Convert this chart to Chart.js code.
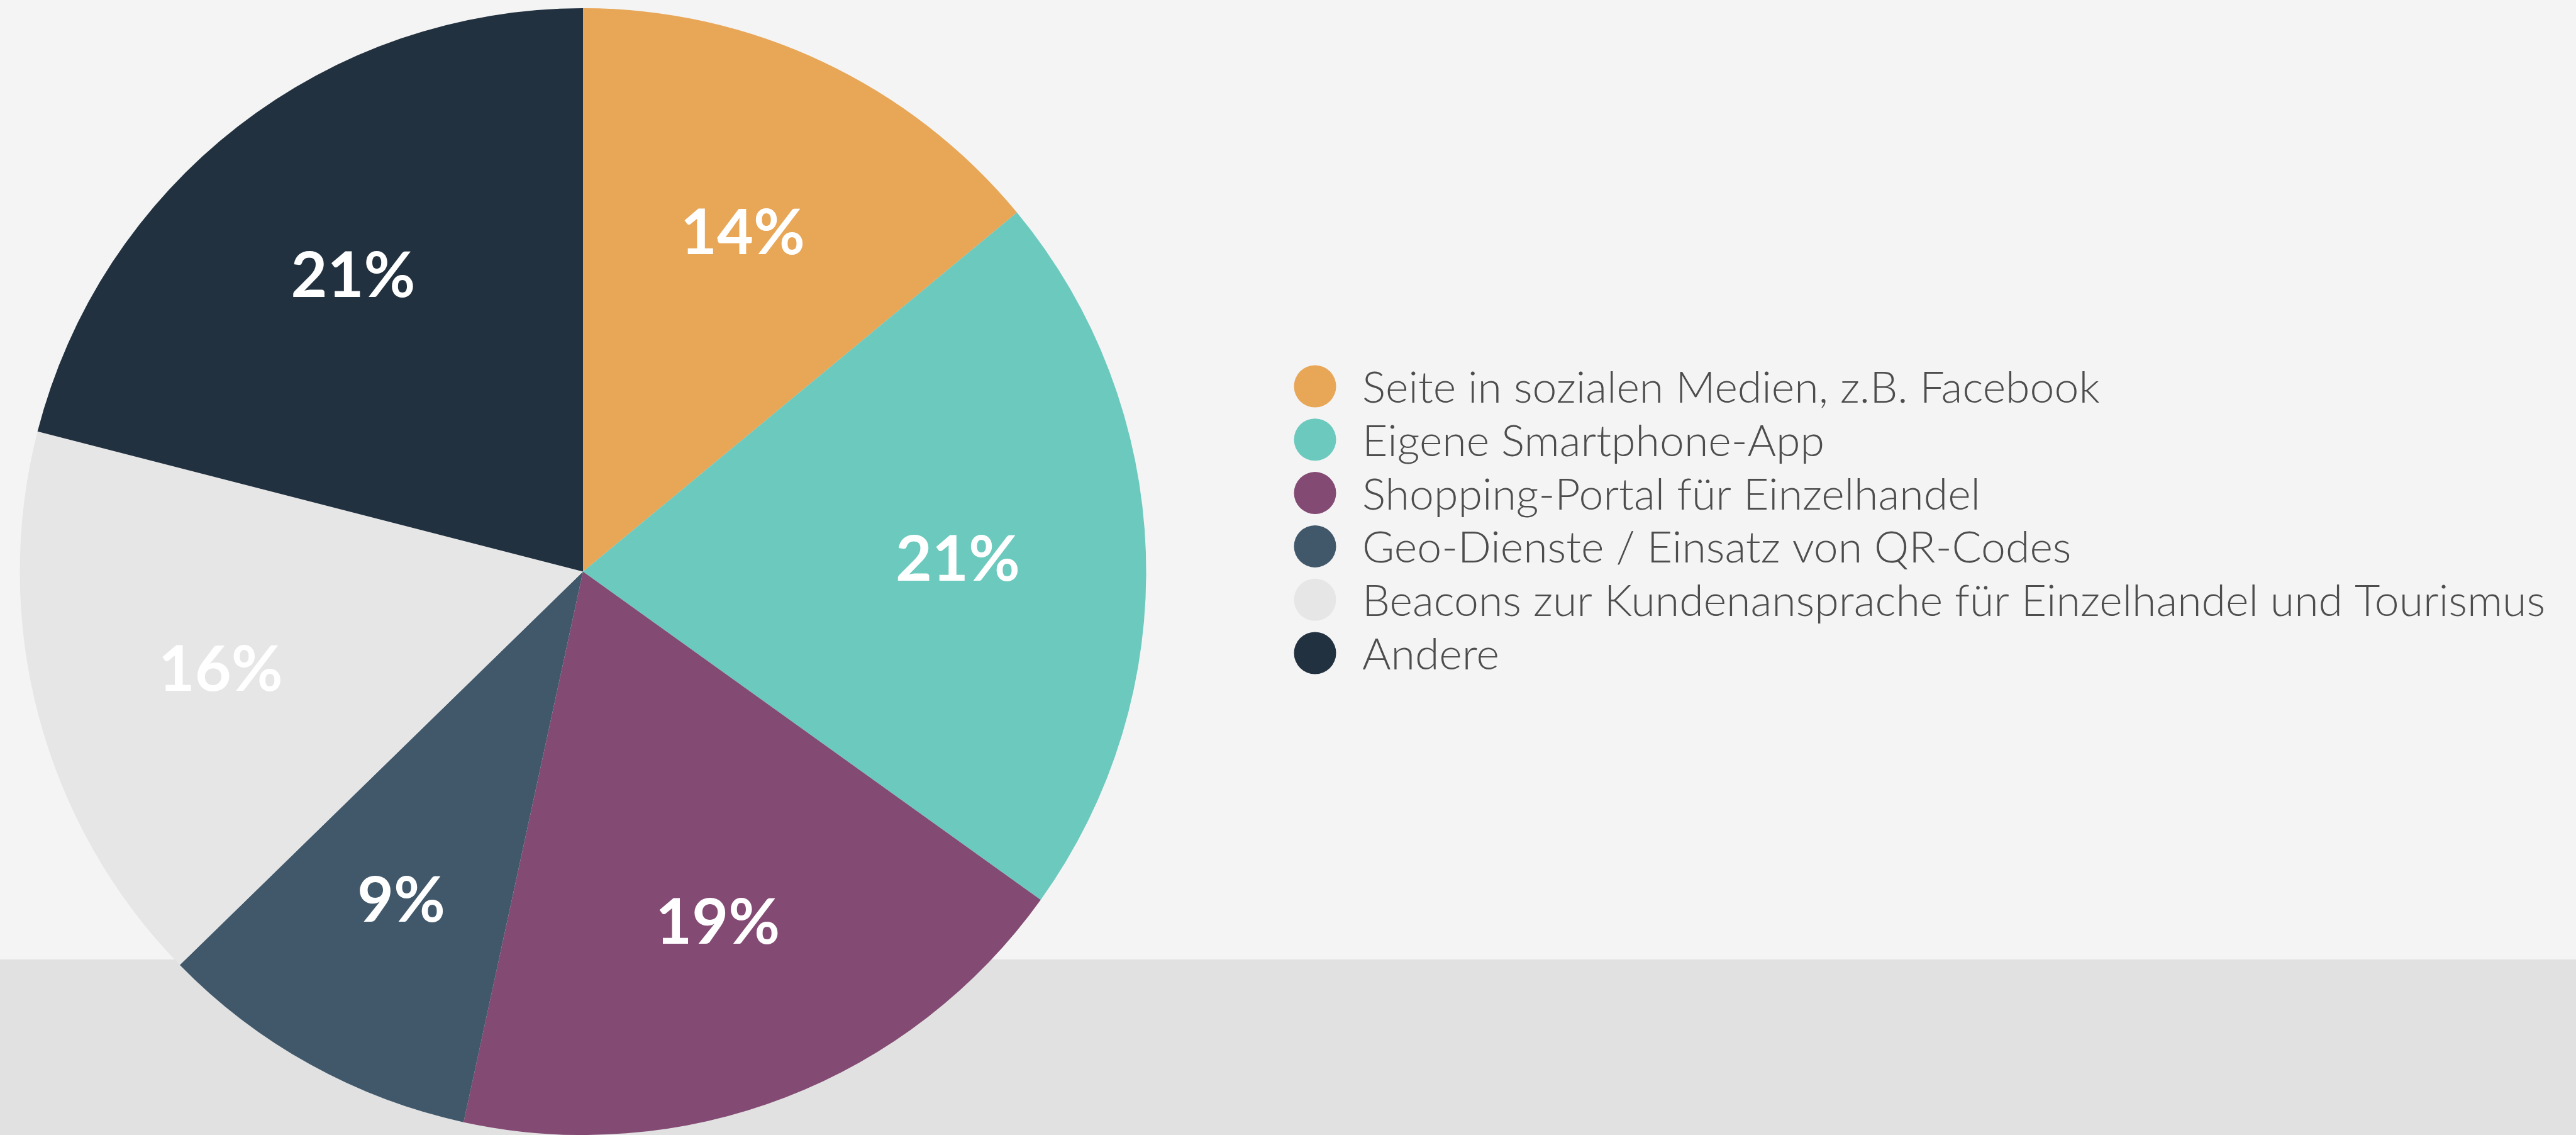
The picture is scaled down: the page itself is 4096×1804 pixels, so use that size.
<!DOCTYPE html>
<html>
<head>
<meta charset="utf-8">
<script src="https://cdn.jsdelivr.net/npm/chart.js@4/dist/chart.umd.min.js"></script>
<style>
  html, body { margin: 0; padding: 0; overflow: hidden; background: #f4f4f4; }
  canvas { display: block; }
</style>
</head>
<body>
<canvas id="pieChart" width="4096" height="1804"></canvas>
<script>
const categories = [
  "Seite in sozialen Medien, z.B. Facebook",
  "Eigene Smartphone-App",
  "Shopping-Portal für Einzelhandel",
  "Geo-Dienste / Einsatz von QR-Codes",
  "Beacons zur Kundenansprache für Einzelhandel und Tourismus",
  "Andere"
];
const shares = [14.0, 20.9, 18.5, 9.3, 16.3, 21.0];
const sliceColors = ["#e8a657", "#6bc9be", "#834a73", "#41586b", "#e6e6e6", "#22313f"];

// Background: light top, grey band at the bottom
const backgroundPlugin = {
  id: "background",
  beforeDraw(chart) {
    const c = chart.ctx;
    c.save();
    c.fillStyle = "#f4f4f4";
    c.fillRect(0, 0, chart.width, chart.height);
    c.fillStyle = "#e1e1e1";
    c.fillRect(0, 1525, chart.width, chart.height - 1525);
    c.restore();
  }
};

// Percent labels inside the slices, at 2/3 of the radius
const sliceLabelPlugin = {
  id: "sliceLabels",
  afterDatasetsDraw(chart) {
    const c = chart.ctx;
    const meta = chart.getDatasetMeta(0);
    c.save();
    c.fillStyle = "#ffffff";
    c.font = "bold 100px Lato";
    c.textAlign = "center";
    c.textBaseline = "middle";
    meta.data.forEach((arc, i) => {
      const p = arc.getProps(["x", "y", "startAngle", "endAngle", "outerRadius"], true);
      const mid = (p.startAngle + p.endAngle) / 2;
      const r = p.outerRadius * 0.666;
      c.fillText(Math.round(shares[i]) + "%", p.x + Math.cos(mid) * r, p.y + Math.sin(mid) * r + 3);
    });
    c.restore();
  }
};

// Legend on the right
const legendPlugin = {
  id: "sideLegend",
  afterDraw(chart) {
    const c = chart.ctx;
    const dotX = 2091, firstY = 614, step = 84.8, dotR = 33.5;
    c.save();
    c.font = "300 69.8px Lato";
    c.textAlign = "left";
    c.textBaseline = "alphabetic";
    categories.forEach((label, i) => {
      const y = firstY + i * step;
      c.fillStyle = sliceColors[i];
      c.beginPath();
      c.arc(dotX, y, dotR, 0, Math.PI * 2);
      c.fill();
      c.fillStyle = "#4d4d4d";
      c.fillText(label, 2166, y + 26);
    });
    c.restore();
  }
};

const ctx = document.getElementById("pieChart").getContext("2d");
new Chart(ctx, {
  type: "pie",
  data: {
    labels: categories,
    datasets: [
      {
        data: shares,
        backgroundColor: sliceColors,
        borderWidth: 0
      }
    ]
  },
  options: {
    responsive: false,
    devicePixelRatio: 1,
    animation: false,
    layout: {
      padding: { left: 31, top: 13, right: 2273, bottom: 0 }
    },
    plugins: {
      legend: { display: false },
      tooltip: { enabled: false }
    }
  },
  plugins: [backgroundPlugin, sliceLabelPlugin, legendPlugin]
});
</script>
</body>
</html>
